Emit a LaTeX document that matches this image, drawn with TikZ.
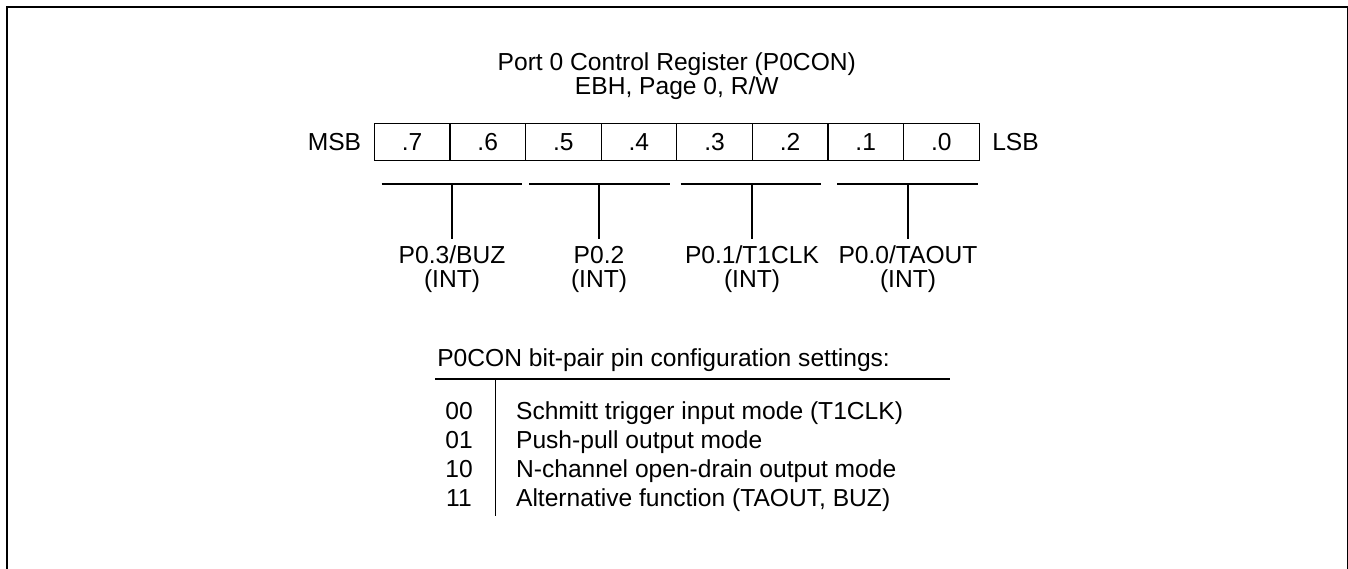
\documentclass[tikz,border=0pt]{standalone}
\usepackage{fontspec}
\setmainfont{Liberation Sans}
\usetikzlibrary{positioning}

\begin{document}
\begin{tikzpicture}[x=0.5pt,y=-0.5pt,line width=0.6pt,
    font=\fontsize{12.3}{14.4}\selectfont,
    cell/.style={draw,minimum width=37.8pt,minimum height=18.8pt,inner sep=0pt},
    pin/.style={align=center,inner sep=0pt,outer sep=3.5pt,font=\fontsize{12.3}{12}\selectfont},
    txt/.style={inner sep=0pt}]
        \useasboundingbox (0,0) rectangle (1348,568);
        \draw[line width=1pt] (6.7,600) -- (6.7,6.7) -- (1347.7,6.7) -- (1347.7,600);
        % title
        \node[txt,anchor=base] (title) at (676.8,70) {Port 0 Control Register (P0CON)};
        \node[txt,anchor=base] (addr) at (676.8,94) {EBH, Page 0, R/W};
        % register bits
        \foreach \i [count=\k from 0] in {7,...,0} {
            \node[cell] (b\i) at (374.3+75.6*\k+37.8,142) {.\i};
          }
        \node[txt] (msb) [left=6pt of b7] {MSB};
        \node[txt] (lsb) [right=6pt of b0] {LSB};
        % bit pairs
        \foreach \n/\a/\b/\m/\t in {3/381.5/522/452/{P0.3/BUZ},2/529/669.5/599/{P0.2},
            1/680.7/821/752/{P0.1/T1CLK},0/837/978/908/{P0.0/TAOUT}} {
            \coordinate (ga\n) at (\a,184);
            \coordinate (gb\n) at (\b,184);
            \coordinate (k\n) at (\m,184);
            \node[pin,anchor=north] (p\n) at (\m,239) {\t\\(INT)};
            \draw (ga\n) -- (gb\n);
            \draw (k\n) -- (p\n);
          }
        % settings table
        \node[txt,anchor=base west] (head) at (436.7,366) {P0CON bit-pair pin configuration settings:};
        \coordinate (hl) at (435,379);
        \coordinate (hr) at (950,379);
        \coordinate (vt) at (495.3,379);
        \coordinate (vb) at (495.3,516);
        \draw (hl) -- (hr);
        \draw (vt) -- (vb);
        \foreach \c/\t [count=\r] in {00/{Schmitt trigger input mode (T1CLK)},01/{Push-pull output mode},
            10/{N-channel open-drain output mode},11/{Alternative function (TAOUT, BUZ)}} {
            \node[txt,anchor=base] (c\r) at (459,390+29*\r) {\c};
            \node[txt,anchor=base west] (d\r) at (515.5,390+29*\r) {\t};
          }
      \end{tikzpicture}
\end{document}
